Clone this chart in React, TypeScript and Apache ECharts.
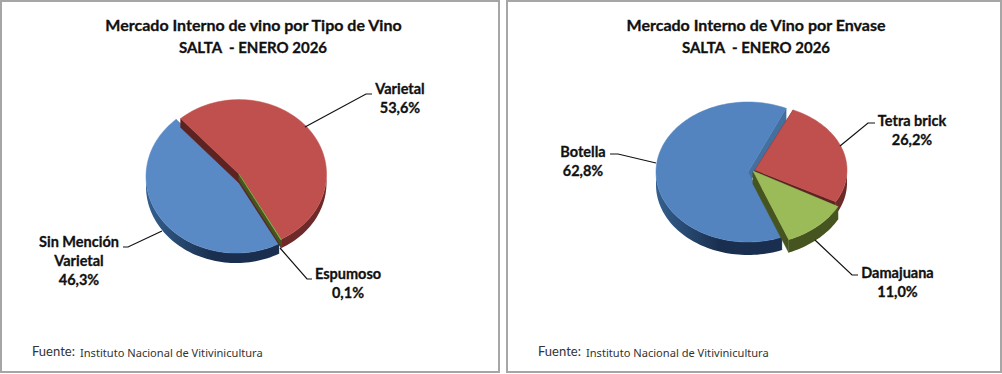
import React, { useEffect, useRef } from "react";
import * as echarts from "echarts";

const titleTipo = "Mercado Interno de vino por Tipo de Vino";
const titleEnvase = "Mercado Interno de Vino por Envase";
const titlePlace = "SALTA  - ENERO 2026";
const fuenteLabel = "Fuente:";
const fuenteText = "Instituto Nacional de Vitivinicultura";

const tipoNames = ["Sin Mención\nVarietal", "Varietal", "Espumoso"];
const tipoValues = [46.3, 53.6, 0.1];
const envaseNames = ["Botella", "Tetra brick", "Damajuana"];
const envaseValues = [62.8, 26.2, 11.0];

const FONT = "Lato, Carlito, Calibri, sans-serif";

const STYLE_BLUE_L = { top: "#5a8ac6", radial: "#44709f", wall: ["#34608f", "#1a2f4f", "#1a2f4f"] };
const STYLE_BLUE_R = { top: "#5384c0", radial: "#44709f", wall: ["#34608f", "#1a2f4f", "#1a2f4f"] };
const STYLE_RED = { top: "#c0504d", radial: "#5e2221", wall: ["#6e2a28", "#6e2a28", "#6e2a28"] };
const STYLE_GREEN = { top: "#9bbb59", radial: "#46551f", wall: ["#46551f", "#46551f", "#46551f"] };

const leftPie = {
  names: tipoNames,
  values: tipoValues,
  startDeg: 151.5,
  slices: [
    { cx: 236, cy: 176.5, rx: 90, ry: 76.5, depth: 10, ...STYLE_BLUE_L, labelX: 79, labelY: 260.3, leader: [[162, 231], [128, 247], [123, 247]] },
    { cx: 239, cy: 174, rx: 87.5, ry: 74.4, depth: 9, ...STYLE_RED, labelX: 400, labelY: 98.3, leader: [[305, 127], [366, 94], [372, 94]] },
    { cx: 239, cy: 174, rx: 88, ry: 75, depth: 6, ...STYLE_GREEN, labelX: 348, labelY: 282.8, leader: [[280, 248], [307, 279], [312, 279]] },
  ],
};

const rightPie = {
  names: envaseNames,
  values: envaseValues,
  startDeg: 158.4,
  slices: [
    { cx: 748, cy: 172, rx: 92, ry: 70, depth: 13, ...STYLE_BLUE_R, labelX: 583, labelY: 160.8, leader: [[656, 163], [618, 154], [610, 154]] },
    { cx: 755, cy: 170, rx: 92, ry: 66, depth: 13, ...STYLE_RED, labelX: 912, labelY: 130.3, leader: [[840, 146], [868, 123], [875, 123]] },
    { cx: 753, cy: 171, rx: 97, ry: 73.8, depth: 13, ...STYLE_GREEN, labelX: 897.5, labelY: 281.8, leader: [[815, 240], [852, 275], [858, 275]] },
  ],
};

function pieSeries(pie: any, seriesName: string) {
  const total = pie.values.reduce((a: number, b: number) => a + b, 0);
  return {
    type: "custom",
    name: seriesName,
    coordinateSystem: "none",
    z: 2,
    data: pie.values.map((v: number, i: number) => ({ name: pie.names[i], value: [v] })),
    renderItem: (params: any, api: any) => {
      const i = params.dataIndex;
      const s = pie.slices[i];
      const before = pie.values.slice(0, i).reduce((a: number, b: number) => a + b, 0);
      const value = api.value(0);
      const a0 = pie.startDeg + (before / total) * 360;
      const a1 = a0 + (value / total) * 360;
      const pt = (deg: number, off = 0) => {
        const t = (deg * Math.PI) / 180;
        return [s.cx + s.rx * Math.sin(t), s.cy - s.ry * Math.cos(t) + off];
      };
      const steps = Math.max(2, Math.ceil((a1 - a0) / 2));
      const arc: number[] = [];
      for (let k = 0; k <= steps; k++) arc.push(a0 + ((a1 - a0) * k) / steps);
      const apex = [s.cx, s.cy];
      const apexLow = [s.cx, s.cy + s.depth];
      const quad = (deg: number) => ({
        type: "polygon",
        shape: { points: [apex, pt(deg), pt(deg, s.depth), apexLow] },
        style: { fill: s.radial, stroke: s.radial, lineWidth: 0.5 },
      });
      const front = arc.filter((d) => Math.cos((d * Math.PI) / 180) <= 0.02);
      const children: any[] = [quad(a0), quad(a1)];
      if (front.length > 1) {
        children.push({
          type: "polygon",
          shape: {
            points: [
              ...front.map((d) => pt(d)),
              ...front.slice().reverse().map((d) => pt(d, s.depth)),
            ],
          },
          style: {
            fill: new echarts.graphic.LinearGradient(0, 0, 1, 0, [
              { offset: 0, color: s.wall[0] },
              { offset: 0.5, color: s.wall[1] },
              { offset: 1, color: s.wall[2] },
            ]),
          },
        });
      }
      children.push({
        type: "polygon",
        shape: { points: [apex, ...arc.map((d) => pt(d))] },
        style: { fill: s.top, stroke: s.top, lineWidth: 0.5 },
      });
      children.push({
        type: "polyline",
        shape: { points: s.leader },
        style: { fill: "none", stroke: "#111111", lineWidth: 1.2 },
      });
      children.push({
        type: "text",
        style: {
          text: `${pie.names[i]}\n${value.toFixed(1).replace(".", ",")}%`,
          x: s.labelX,
          y: s.labelY,
          align: "center",
          verticalAlign: "middle",
          fontFamily: FONT,
          fontWeight: "bold",
          fontSize: 14.5,
          lineHeight: 19,
          fill: "#111111",
          stroke: "#111111",
          lineWidth: 0.3,
        },
      });
      return { type: "group", children };
    },
  };
}

function frame(x: number, w: number) {
  return {
    type: "rect",
    z: -1,
    shape: { x, y: 1, width: w, height: 371 },
    style: { fill: "#ffffff", stroke: "#a6a6a6", lineWidth: 2 },
  };
}

function source(x: number) {
  return [
    {
      type: "text",
      z: 3,
      style: { text: fuenteLabel, x, y: 351, verticalAlign: "middle", fontFamily: FONT, fontSize: 13, fill: "#333333" },
    },
    {
      type: "text",
      z: 3,
      style: { text: fuenteText, x: x + 48, y: 352, verticalAlign: "middle", fontFamily: "'Noto Sans', sans-serif", fontSize: 11.1, fill: "#333333" },
    },
  ];
}

function title(text: string, left: number, top: number, fontSize: number) {
  return {
    text,
    left,
    top,
    textAlign: "center",
    textStyle: {
      fontFamily: FONT,
      fontWeight: "bold",
      fontSize,
      lineHeight: 21,
      color: "#111111",
      textBorderColor: "#111111",
      textBorderWidth: 0.3,
    },
  };
}

export default function App() {
  const ref = useRef<HTMLDivElement>(null);
  useEffect(() => {
    document.body.style.margin = "0";
    const chart = echarts.init(ref.current!, null, { renderer: "svg" });
    chart.setOption({
      animation: false,
      backgroundColor: "#ffffff",
      title: [
        title(titleTipo, 248.5, 9, 16),
        title(titlePlace, 248, 31, 15),
        title(titleEnvase, 751, 9, 16),
        title(titlePlace, 751, 31, 15),
      ],
      graphic: [frame(1, 498), frame(507, 494), ...source(32), ...source(538)],
      series: [pieSeries(leftPie, "Tipo de Vino"), pieSeries(rightPie, "Envase")],
    });
    return () => chart.dispose();
  }, []);
  return <div ref={ref} style={{ width: 1002, height: 374 }} />;
}
